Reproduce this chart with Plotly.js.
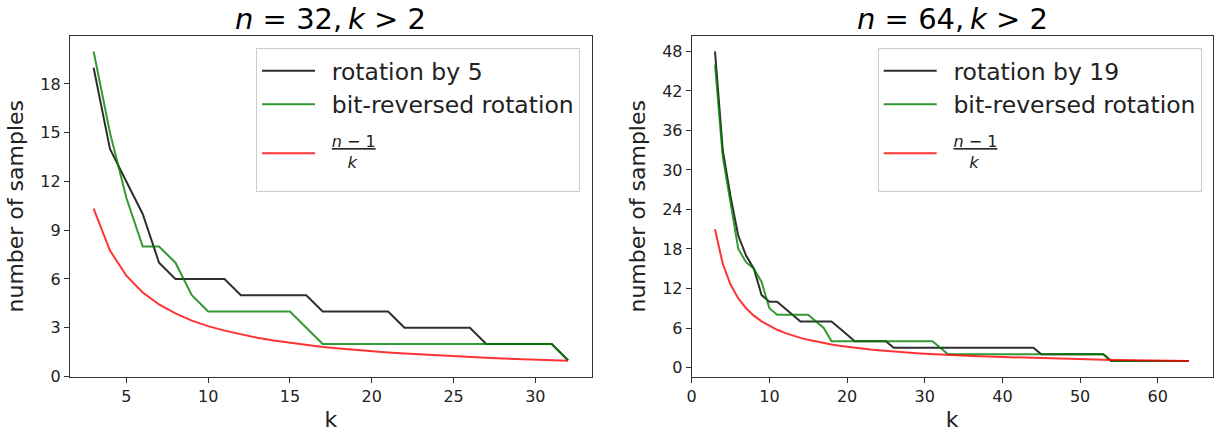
<!DOCTYPE html>
<html>
<head>
<meta charset="utf-8">
<script src="https://cdn.plot.ly/plotly-3.0.1.min.js"></script>
<style>
html,body{margin:0;padding:0;background:#fff;}
#chart{width:1214px;height:437px;}
</style>
</head>
<body>
<div id="chart"></div>
<script>
// ---- Left panel: n = 32 ----
const kLeft = [3,4,5,6,7,8,9,10,11,12,13,14,15,16,17,18,19,20,21,22,23,24,25,26,27,28,29,30,31,32];
const rotation5 = [19,14,12,10,7,6,6,6,6,5,5,5,5,5,4,4,4,4,4,3,3,3,3,3,2,2,2,2,2,1];
const bitRevLeft = [20,15,11,8,8,7,5,4,4,4,4,4,4,3,2,2,2,2,2,2,2,2,2,2,2,2,2,2,2,1];
const boundLeft = [10.33,7.75,6.2,5.17,4.43,3.88,3.44,3.1,2.82,2.58,2.38,2.21,2.07,1.94,1.82,1.72,1.63,1.55,1.48,1.41,1.35,1.29,1.24,1.19,1.15,1.11,1.07,1.03,1.0,0.97];

// ---- Right panel: n = 64 ----
const kRight = [3,4,5,6,7,8,9,10,11,12,13,14,15,16,17,18,19,20,21,22,23,24,25,26,27,28,29,30,31,32,33,34,35,36,37,38,39,40,41,42,43,44,45,46,47,48,49,50,51,52,53,54,55,56,57,58,59,60,61,62,63,64];
const rotation19 = [48,33,26,20,17,15,11,10,10,9,8,7,7,7,7,7,6,5,4,4,4,4,4,
  3,3,3,3,3,3,3,3,3,3,3,3,3,3,3,3,3,3,3,
  2,2,2,2,2,2,2,2,2,
  1,1,1,1,1,1,1,1,1,1,1];
const bitRevRight = [46,32,25,18,16,15,13,9,8,8,8,8,8,7,6,
  4,4,4,4,4,4,4,4,4,4,4,4,4,4,
  3,
  2,2,2,2,2,2,2,2,2,2,2,2,2,2,2,2,2,2,2,2,2,
  1,1,1,1,1,1,1,1,1,1,1];
const boundRight = [21.0,15.75,12.6,10.5,9.0,7.88,7.0,6.3,5.73,5.25,4.85,4.5,4.2,3.94,3.71,3.5,3.32,3.15,3.0,2.86,2.74,2.63,2.52,2.42,2.33,2.25,2.17,2.1,2.03,1.97,1.91,1.85,1.8,1.75,1.7,1.66,1.62,1.58,1.54,1.5,1.47,1.43,1.4,1.37,1.34,1.31,1.29,1.26,1.24,1.21,1.19,1.17,1.15,1.13,1.11,1.09,1.07,1.05,1.03,1.02,1.0,0.98];

// labels
const titleLeft = '<i>n</i> = 32,\u2009<i>k</i> &gt; 2';
const titleRight = '<i>n</i> = 64,\u2009<i>k</i> &gt; 2';
const nameRot5 = '\u2002rotation by 5';
const nameRot19 = '\u2002rotation by 19';
const nameBitRev = '\u2002bit-reversed rotation';
const nameBound = '\u2002<span style="font-size:16px"><u><i>n</i> − 1</u></span><br>\u2002<sup>\u00a0\u00a0\u00a0<i>k</i></sup>';
const xTitle = 'k';
const yTitle = 'number of samples';
const ticksLeftX = [5,10,15,20,25,30];
const ticksLeftY = [0,3,6,9,12,15,18];
const ticksRightX = [0,10,20,30,40,50,60];
const ticksRightY = [0,6,12,18,24,30,36,42,48];

const cBlack = 'rgba(0,0,0,0.82)';
const cGreen = 'rgba(0,128,0,0.8)';
const cRed = 'rgba(255,0,0,0.8)';
const lw = 2;
const FONT = 'DejaVu Sans';

const traces = [
  {x:kLeft, y:rotation5, name:nameRot5, mode:'lines', line:{color:cBlack,width:lw}, xaxis:'x', yaxis:'y', legend:'legend'},
  {x:kLeft, y:bitRevLeft, name:nameBitRev, mode:'lines', line:{color:cGreen,width:lw}, xaxis:'x', yaxis:'y', legend:'legend'},
  {x:kLeft, y:boundLeft, name:nameBound, mode:'lines', line:{color:cRed,width:lw}, xaxis:'x', yaxis:'y', legend:'legend'},
  {x:kRight, y:rotation19, name:nameRot19, mode:'lines', line:{color:cBlack,width:lw}, xaxis:'x2', yaxis:'y2', legend:'legend2'},
  {x:kRight, y:bitRevRight, name:nameBitRev, mode:'lines', line:{color:cGreen,width:lw}, xaxis:'x2', yaxis:'y2', legend:'legend2'},
  {x:kRight, y:boundRight, name:nameBound, mode:'lines', line:{color:cRed,width:lw}, xaxis:'x2', yaxis:'y2', legend:'legend2'}
];

const W = 1214, H = 437;
const px = v => v / W;
const py = v => 1 - v / H;

const axisCommon = {
  showgrid:false, zeroline:false, showline:true, mirror:true,
  linecolor:'#333', linewidth:1,
  ticks:'outside', ticklen:5, tickwidth:1, tickcolor:'#333',
  tickfont:{family:FONT, size:16, color:'#222'},
  tickmode:'array'
};

const legendCommon = {
  bgcolor:'rgba(255,255,255,0.8)', bordercolor:'#cccccc', borderwidth:1,
  font:{family:FONT, size:23.5, color:'#222'},
  xanchor:'right', yanchor:'top', tracegroupgap:0, itemwidth:53,
  traceorder:'normal'
};

const layout = {
  width:W, height:H,
  margin:{l:0,r:0,t:0,b:0},
  paper_bgcolor:'#fff', plot_bgcolor:'#fff',
  showlegend:true,
  xaxis:Object.assign({}, axisCommon, {domain:[px(69.9), px(591.8)], range:[1.55,33.45], tickvals:ticksLeftX, anchor:'y',
    title:{text:xTitle, font:{family:FONT,size:22,color:'#222'}, standoff:6}}),
  yaxis:Object.assign({}, axisCommon, {domain:[py(376.5), py(36)], range:[-0.001,20.95], tickvals:ticksLeftY, anchor:'x',
    title:{text:yTitle, font:{family:FONT,size:22,color:'#222'}, standoff:10}}),
  xaxis2:Object.assign({}, axisCommon, {domain:[px(691.7), px(1212.5)], range:[0,67.05], tickvals:ticksRightX, anchor:'y2',
    title:{text:xTitle, font:{family:FONT,size:22,color:'#222'}, standoff:6}}),
  yaxis2:Object.assign({}, axisCommon, {domain:[py(376.5), py(36)], range:[-1.367,50.35], tickvals:ticksRightY, anchor:'x2',
    title:{text:yTitle, font:{family:FONT,size:22,color:'#222'}, standoff:10}}),
  legend:Object.assign({}, legendCommon, {x:px(580), y:py(48)}),
  legend2:Object.assign({}, legendCommon, {x:px(1201.7), y:py(48)}),
  annotations:[
    {text:titleLeft, xref:'paper', yref:'paper', x:px(330.9), y:py(19), xanchor:'center', yanchor:'middle', showarrow:false,
     font:{family:FONT, size:29, color:'#000'}},
    {text:titleRight, xref:'paper', yref:'paper', x:px(952.1), y:py(19), xanchor:'center', yanchor:'middle', showarrow:false,
     font:{family:FONT, size:29, color:'#000'}}
  ]
};

Plotly.newPlot('chart', traces, layout, {displayModeBar:false, staticPlot:true});
</script>
</body>
</html>
